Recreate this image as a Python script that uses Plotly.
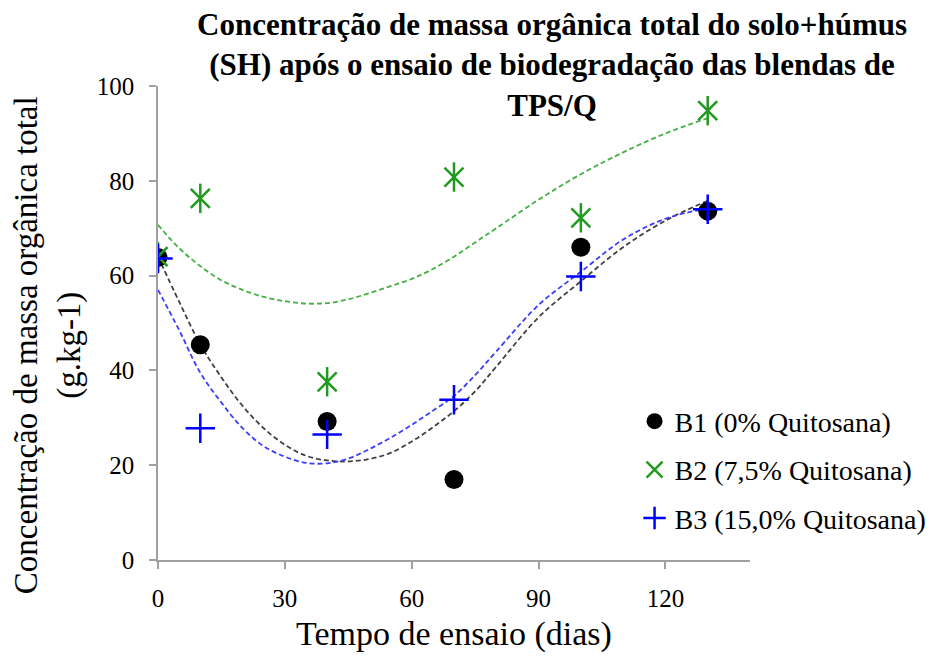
import plotly.graph_objects as go

# measured points
dias = [0, 10, 40, 70, 100, 130]
b1 = [63.8, 45.4, 29.2, 17.0, 66.0, 73.6]
b2 = [64.0, 76.3, 37.6, 80.8, 72.2, 94.8]
b3 = [63.6, 27.8, 26.5, 33.8, 59.8, 74.0]

# trend curves
trend_x = [0, 5, 10, 15, 20, 25, 30, 35, 40, 45, 50, 55, 60, 65, 70, 75, 80, 90, 100, 110, 120, 130]
trend_b1 = [64.0, 54.5, 45.5, 38.5, 32.5, 27.8, 24.3, 22.0, 21.0, 20.8, 21.3, 22.6, 25.0, 28.0, 31.4, 35.6, 40.8, 51.2, 58.8, 66.0, 71.6, 75.8]
trend_b2 = [70.7, 65.8, 62.0, 59.0, 57.0, 55.5, 54.6, 54.1, 54.2, 55.0, 56.3, 57.8, 59.3, 61.4, 64.0, 67.0, 70.0, 76.0, 81.4, 86.0, 90.0, 93.2]
trend_b3 = [57.0, 48.5, 39.5, 33.2, 27.8, 24.0, 21.8, 20.5, 20.4, 21.4, 23.4, 25.8, 28.5, 31.5, 34.6, 39.0, 44.0, 53.8, 60.8, 67.6, 72.0, 74.2]

SERIF = "Liberation Serif"
GREEN = "#1f9a1f"
BLUE = "#0000ff"

fig = go.Figure()

# dotted trend lines first so markers sit on top
for ys, col in [(trend_b2, "#44b044"), (trend_b1, "#404040"), (trend_b3, "#3c3cff")]:
    fig.add_trace(go.Scatter(
        x=trend_x, y=ys, mode="lines", line=dict(color=col, width=1.8, dash="5px,3px", shape="spline"),
        showlegend=False, hoverinfo="skip",
    ))

fig.add_trace(go.Scatter(
    x=dias, y=b1, mode="markers", name="B1 (0% Quitosana)", legendgroup="b1",
    marker=dict(symbol="circle", size=19, color="black"),
))
fig.add_trace(go.Scatter(
    x=dias, y=b2, mode="markers", name="B2 (7,5% Quitosana)", legendgroup="b2",
    marker=dict(symbol="x-thin-open", size=19, color=GREEN, line=dict(color=GREEN, width=2.5)),
))
fig.add_trace(go.Scatter(
    x=dias, y=b2, mode="markers", legendgroup="b2", showlegend=False,
    marker=dict(symbol="line-ns-open", size=21, color=GREEN, line=dict(color=GREEN, width=2.5)),
))
fig.add_trace(go.Scatter(
    x=dias, y=b3, mode="markers", name="B3 (15,0% Quitosana)", legendgroup="b3",
    marker=dict(symbol="cross-thin-open", size=21, color=BLUE, line=dict(color=BLUE, width=2.5)),
))

axis_style = dict(
    showline=True, linecolor="#a0a0a0", linewidth=1.5, showgrid=False, zeroline=False,
    ticks="outside", tickcolor="#a0a0a0", ticklen=7, tickwidth=1.5,
)

fig.update_xaxes(
    range=[0, 140], tickvals=[0, 30, 60, 90, 120], ticklabelstandoff=8,
    tickfont=dict(family=SERIF, size=25, color="black"),
    title=dict(text="Tempo de ensaio (dias)", font=dict(family=SERIF, size=34, color="black"), standoff=10),
    **axis_style,
)
fig.update_yaxes(
    range=[0, 100], dtick=20, ticklabelstandoff=10,
    tickfont=dict(family=SERIF, size=25, color="black"),
    **axis_style,
)

fig.add_annotation(
    text="Concentração de massa orgânica total<br>(g.kg-1)", textangle=-90,
    xref="paper", yref="paper", x=-0.186, y=0.453, xanchor="center", yanchor="middle",
    showarrow=False, font=dict(family=SERIF, size=33, color="black"),
)

fig.add_annotation(
    text="<b>Concentração de massa orgânica total do solo+húmus<br>(SH) após o ensaio de biodegradação das blendas de<br>TPS/Q</b>",
    xref="paper", yref="paper", x=0.665, y=1.17, xanchor="center", yanchor="top",
    showarrow=False, font=dict(family=SERIF, size=31, color="black"),
)

# page body adds an 8px margin, so the figure is sized 8px smaller each way
fig.update_layout(
    width=929, height=651,
    margin=dict(l=150, r=187, t=78, b=99, autoexpand=False),
    plot_bgcolor="white", paper_bgcolor="white",
    legend=dict(
        x=0.805, xanchor="left", y=0.345, yanchor="top", tracegroupgap=9,
        font=dict(family=SERIF, size=28, color="black"), bgcolor="rgba(0,0,0,0)",
    ),
)

fig.write_html("out.html")
